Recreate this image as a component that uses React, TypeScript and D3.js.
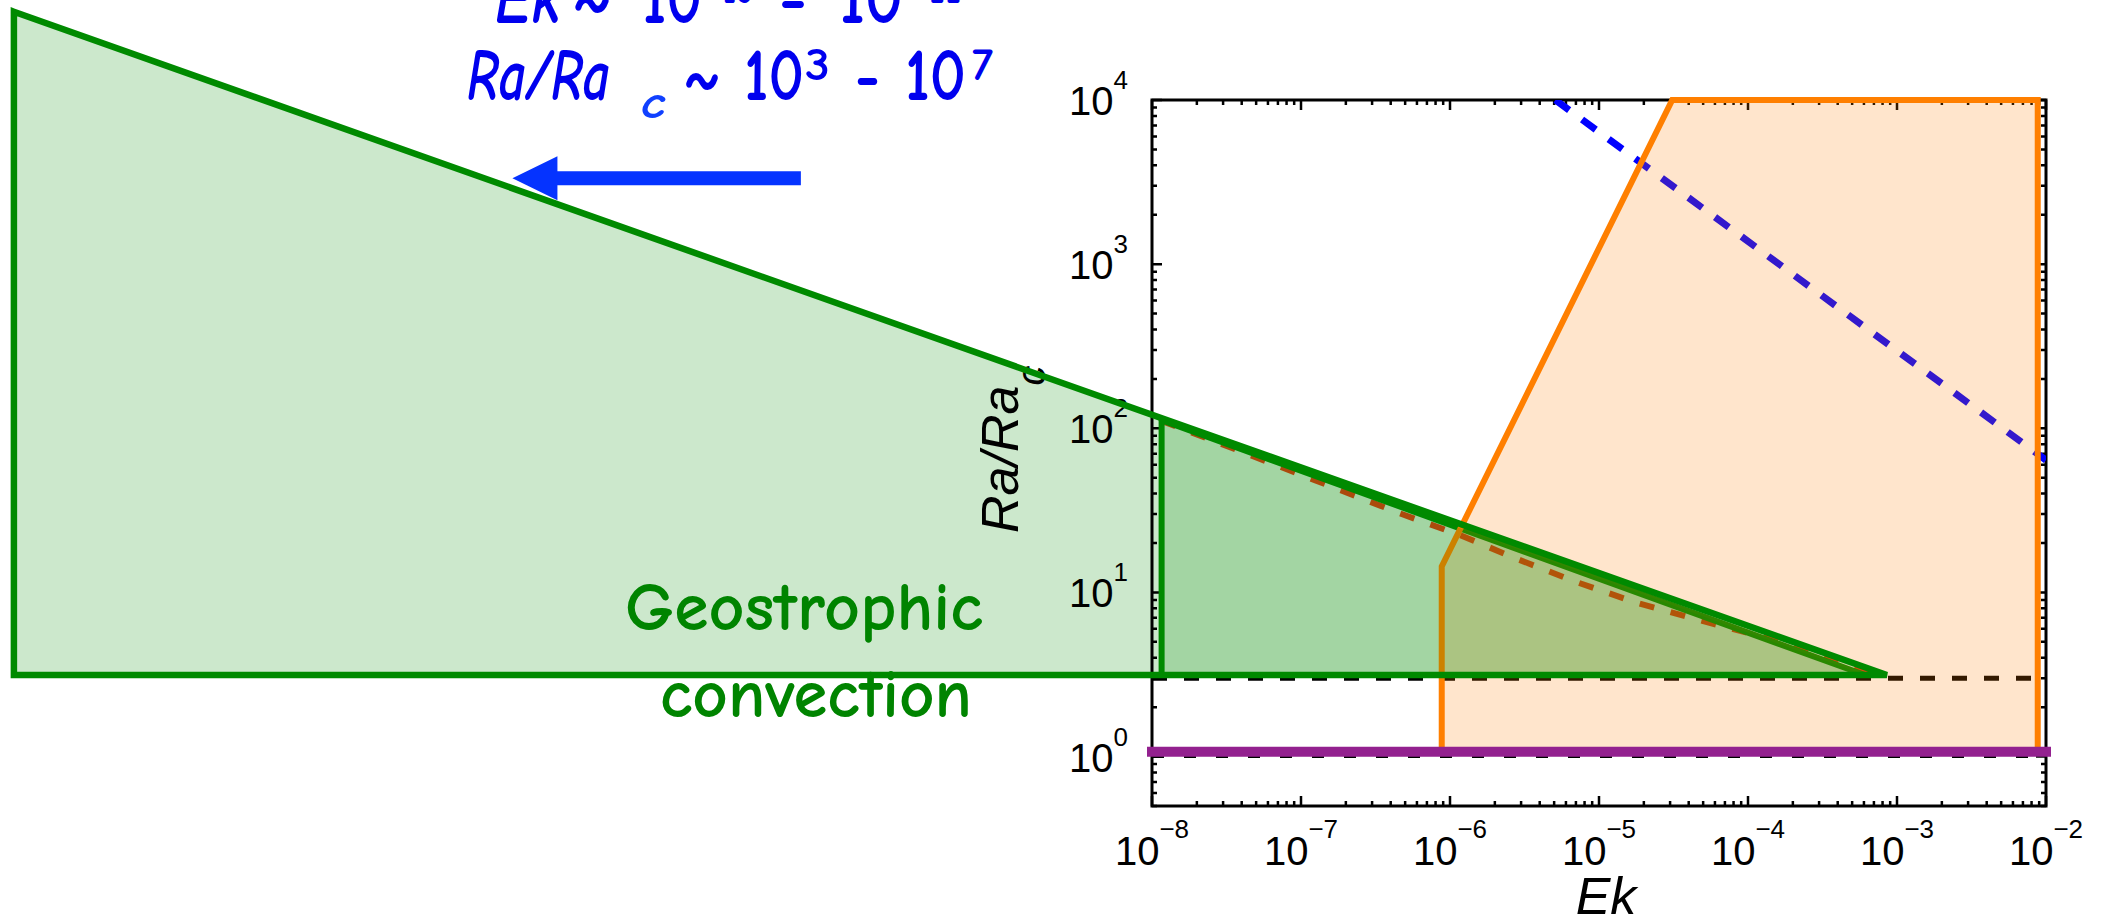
import React from 'react';
import * as d3 from 'd3';

const W = 2107;
const H = 919;

// ---- axes ----
const xTickExponents = [-8, -7, -6, -5, -4, -3, -2];
const yTickExponents = [0, 1, 2, 3, 4];
const xDomain = [1e-8, 1e-2];
const yDomain = [0.5, 1e4];

// ---- big geostrophic triangle (extends to very low Ek) ----
const geoBigEk = [2.3e-16, 8.55e-4, 2.3e-16];
const geoBigRa = [3.45e4, 3.14, 3.14];

// ---- geostrophic region inside the plot ----
const geoInnerEk = [1.16e-8, 1.16e-8, 6.1e-4];
const geoInnerRa = [3.14, 112, 3.14];

// ---- orange region ----
const orangeEk = [8.8e-7, 8.8e-7, 3.1e-5, 8.8e-3, 8.8e-3];
const orangeRa = [1.07, 14.4, 1e4, 1e4, 1.07];

// ---- red dashed transition curve ----
const redEk = [1.16e-8, 2.85e-8, 7.19e-8, 1.82e-7, 4.57e-7, 1.16e-6, 2.77e-6, 7.0e-6, 1.8e-5, 4.68e-5, 1.24e-4, 2.98e-4, 8.34e-4];
const redRa = [111, 81.1, 58.5, 42.2, 30.4, 22.4, 16.1, 11.6, 8.63, 6.79, 5.38, 4.06, 3.14];

// ---- blue dashed line ----
const blueEk = [5.1e-6, 1e-2];
const blueRa = [1e4, 64];

// ---- black dashed lines ----
const dash3Ek = [1e-8, 8.8e-3];
const dash3Ra = [3, 3];
const dash1Ek = [1e-8, 1e-2];
const dash1Ra = [1, 1];

// ---- purple onset line ----
const onsetEk = [1e-8, 1e-2];
const onsetRa = [1.07, 1.07];

// ---- annotation arrow (tail -> tip) ----
const arrowEk = [4.4e-11, 5.1e-13];
const arrowRa = [3340, 3340];

const zip = (a: number[], b: number[]) => a.map((v, i) => [v, b[i]] as [number, number]);

const sx = d3.scaleLog().domain(xDomain).range([1152, 2046]);
const sy = d3.scaleLog().domain(yDomain).range([806, 100]);

const line = d3
  .line<[number, number]>()
  .x((d) => sx(d[0]))
  .y((d) => sy(d[1]));

const poly = (a: number[], b: number[]) => (line(zip(a, b)) || '') + 'Z';
const path = (a: number[], b: number[]) => line(zip(a, b)) || '';

const COMIC = '"Comic Sans MS", "Comic Neue", "DejaVu Sans", sans-serif';
const ARIAL = '"Liberation Sans", Arial, Helvetica, sans-serif';
const GREEN = '#008a00';

type Piece = { t: string; x: number; w: number; y: number; size: number; italic?: boolean; color?: string };

const topLine1: Piece[] = [
  { t: 'Ek', x: 495, w: 66, y: 23, size: 74, italic: true },
  { t: '~', x: 572, w: 40, y: 23, size: 74 },
  { t: '10', x: 642, w: 60, y: 23, size: 74 },
  { t: '-15', x: 709, w: 45, y: 3, size: 46 },
  { t: '-', x: 779, w: 28, y: 23, size: 74 },
  { t: '10', x: 839, w: 64, y: 23, size: 74 },
  { t: '-11', x: 912, w: 49, y: 3, size: 46 },
];
const topLine2: Piece[] = [
  { t: 'Ra/Ra', x: 467, w: 143, y: 100, size: 74, italic: true },
  { t: 'c', x: 641, w: 25, y: 118, size: 46, italic: true, color: '#1040ff' },
  { t: '~', x: 683, w: 38, y: 100, size: 74 },
  { t: '10', x: 744, w: 60, y: 100, size: 74 },
  { t: '3', x: 805, w: 25, y: 80, size: 46 },
  { t: '-', x: 855, w: 25, y: 100, size: 74 },
  { t: '10', x: 905, w: 61, y: 100, size: 74 },
  { t: '7', x: 972, w: 21, y: 80, size: 46 },
];
const greenText: Piece[] = [
  { t: 'Geostrophic', x: 625, w: 358, y: 630, size: 68 },
  { t: 'convection', x: 660, w: 312, y: 717, size: 68 },
];

const renderPieces = (ps: Piece[], color: string, key: string) =>
  ps.map((p, i) => (
    <text
      key={key + i}
      x={p.x}
      y={p.y}
      fontFamily={COMIC}
      fontSize={p.size}
      fontWeight={700}
      fontStyle={p.italic ? 'italic' : 'normal'}
      fill={p.color || color}
      textLength={p.w}
      lengthAdjust="spacingAndGlyphs"
    >
      {p.t}
    </text>
  ));

export default function App() {
  const [x0, x1] = sx.range();
  const [y0, y1] = sy.range(); // y0 bottom, y1 top

  const xMajor = xTickExponents.map((e) => Math.pow(10, e));
  const xMinor: number[] = [];
  xTickExponents.slice(0, -1).forEach((e) => {
    for (let m = 2; m <= 9; m++) xMinor.push(m * Math.pow(10, e));
  });
  const yMajor = yTickExponents.map((e) => Math.pow(10, e));
  const yMinor: number[] = [];
  for (let m = 5; m <= 9; m++) yMinor.push(m * 0.1);
  yTickExponents.slice(0, -1).forEach((e) => {
    for (let m = 2; m <= 9; m++) yMinor.push(m * Math.pow(10, e));
  });

  const tickSegs: string[] = [];
  const maj = 10;
  const mnr = 5;
  xMajor.forEach((v) => {
    const x = sx(v);
    tickSegs.push(`M${x},${y0}v${-maj}M${x},${y1}v${maj}`);
  });
  xMinor.forEach((v) => {
    const x = sx(v);
    tickSegs.push(`M${x},${y0}v${-mnr}M${x},${y1}v${mnr}`);
  });
  yMajor.forEach((v) => {
    const y = sy(v);
    tickSegs.push(`M${x0},${y}h${maj}M${x1},${y}h${-maj}`);
  });
  yMinor.forEach((v) => {
    const y = sy(v);
    tickSegs.push(`M${x0},${y}h${mnr}M${x1},${y}h${-mnr}`);
  });

  // arrow geometry
  const ax0 = sx(arrowEk[0]);
  const ax1 = sx(arrowEk[1]);
  const ay = sy(arrowRa[0]);
  const headLen = 45;
  const headHalf = 22;
  const shaftHalf = 7;
  const arrowPath = `M${ax0},${ay - shaftHalf}H${ax1 + headLen}V${ay - headHalf}L${ax1},${ay}L${ax1 + headLen},${ay + headHalf}V${ay + shaftHalf}H${ax0}Z`;

  return (
    <svg
      width={W}
      height={H}
      viewBox={`0 0 ${W} ${H}`}
      style={{ position: 'absolute', left: 0, top: 0, display: 'block', background: '#fff' }}
    >
      <defs>
        <clipPath id="plotClip">
          <rect x={x0} y={y1} width={x1 - x0} height={y0 - y1} />
        </clipPath>
      </defs>

      {/* big geostrophic triangle fill */}
      <path d={poly(geoBigEk, geoBigRa)} fill="rgba(0,140,0,0.2)" stroke="none" />

      {/* frame and ticks */}
      <rect x={x0} y={y1} width={x1 - x0} height={y0 - y1} fill="none" stroke="#000" strokeWidth={3} />
      <path d={tickSegs.join('')} stroke="#000" strokeWidth={2.5} fill="none" />

      {/* dashed reference lines */}
      <path d={path(dash1Ek, dash1Ra)} stroke="#000" strokeWidth={3} strokeDasharray="12,20" fill="none" />
      <path d={path(dash3Ek, dash3Ra)} stroke="#000" strokeWidth={5} strokeDasharray="15,17" fill="none" />
      <path
        d={path(blueEk, blueRa)}
        stroke="#0000ff"
        strokeWidth={7}
        strokeDasharray="17,16"
        fill="none"
        clipPath="url(#plotClip)"
      />
      <path d={path(redEk, redRa)} stroke="#d83a10" strokeWidth={6} strokeDasharray="15,17" fill="none" />

      {/* inner geostrophic stroke */}
      <path d={poly(geoInnerEk, geoInnerRa)} fill="none" stroke={GREEN} strokeWidth={6} />

      {/* orange region */}
      <path
        d={poly(orangeEk, orangeRa)}
        fill="rgba(255,127,0,0.2)"
        stroke="#ff7f00"
        strokeWidth={6}
        strokeLinejoin="miter"
      />

      {/* inner geostrophic fill */}
      <path d={poly(geoInnerEk, geoInnerRa)} fill="rgba(0,140,0,0.2)" stroke="none" />

      {/* onset line */}
      <path d={path(onsetEk, onsetRa)} stroke="#93218f" strokeWidth={10} strokeLinecap="square" fill="none" />

      {/* tick labels */}
      {xMajor.map((v, i) => (
        <text key={'xl' + i} x={sx(v)} y={865} textAnchor="middle" fontFamily={ARIAL} fontSize={40} fill="#000">
          10
          <tspan dy={-27} fontSize={26}>
            {'\u2212' + Math.abs(xTickExponents[i])}
          </tspan>
        </text>
      ))}
      {yMajor.map((v, i) => (
        <text key={'yl' + i} x={1128} y={sy(v) + 15} textAnchor="end" fontFamily={ARIAL} fontSize={40} fill="#000">
          10
          <tspan dy={-26} fontSize={26}>
            {String(yTickExponents[i])}
          </tspan>
        </text>
      ))}

      {/* axis labels */}
      <text x={1606} y={914} textAnchor="middle" fontFamily={ARIAL} fontStyle="italic" fontSize={52} fill="#000">
        Ek
      </text>
      <text
        transform={`translate(1018,533) rotate(-90)`}
        x={0}
        y={0}
        fontFamily={ARIAL}
        fontStyle="italic"
        fontSize={52}
        fill="#000"
      >
        Ra/Ra
        <tspan dy={27} fontSize={40}>
          c
        </tspan>
      </text>

      {/* annotations */}
      {renderPieces(greenText, '#008400', 'g')}
      {renderPieces(topLine1, '#0000ee', 'a')}
      {renderPieces(topLine2, '#0000ee', 'b')}

      {/* big triangle outline on top */}
      <path d={poly(geoBigEk, geoBigRa)} fill="none" stroke={GREEN} strokeWidth={6.5} strokeLinejoin="miter" />

      {/* arrow */}
      <path d={arrowPath} fill="#0533ff" />
    </svg>
  );
}
